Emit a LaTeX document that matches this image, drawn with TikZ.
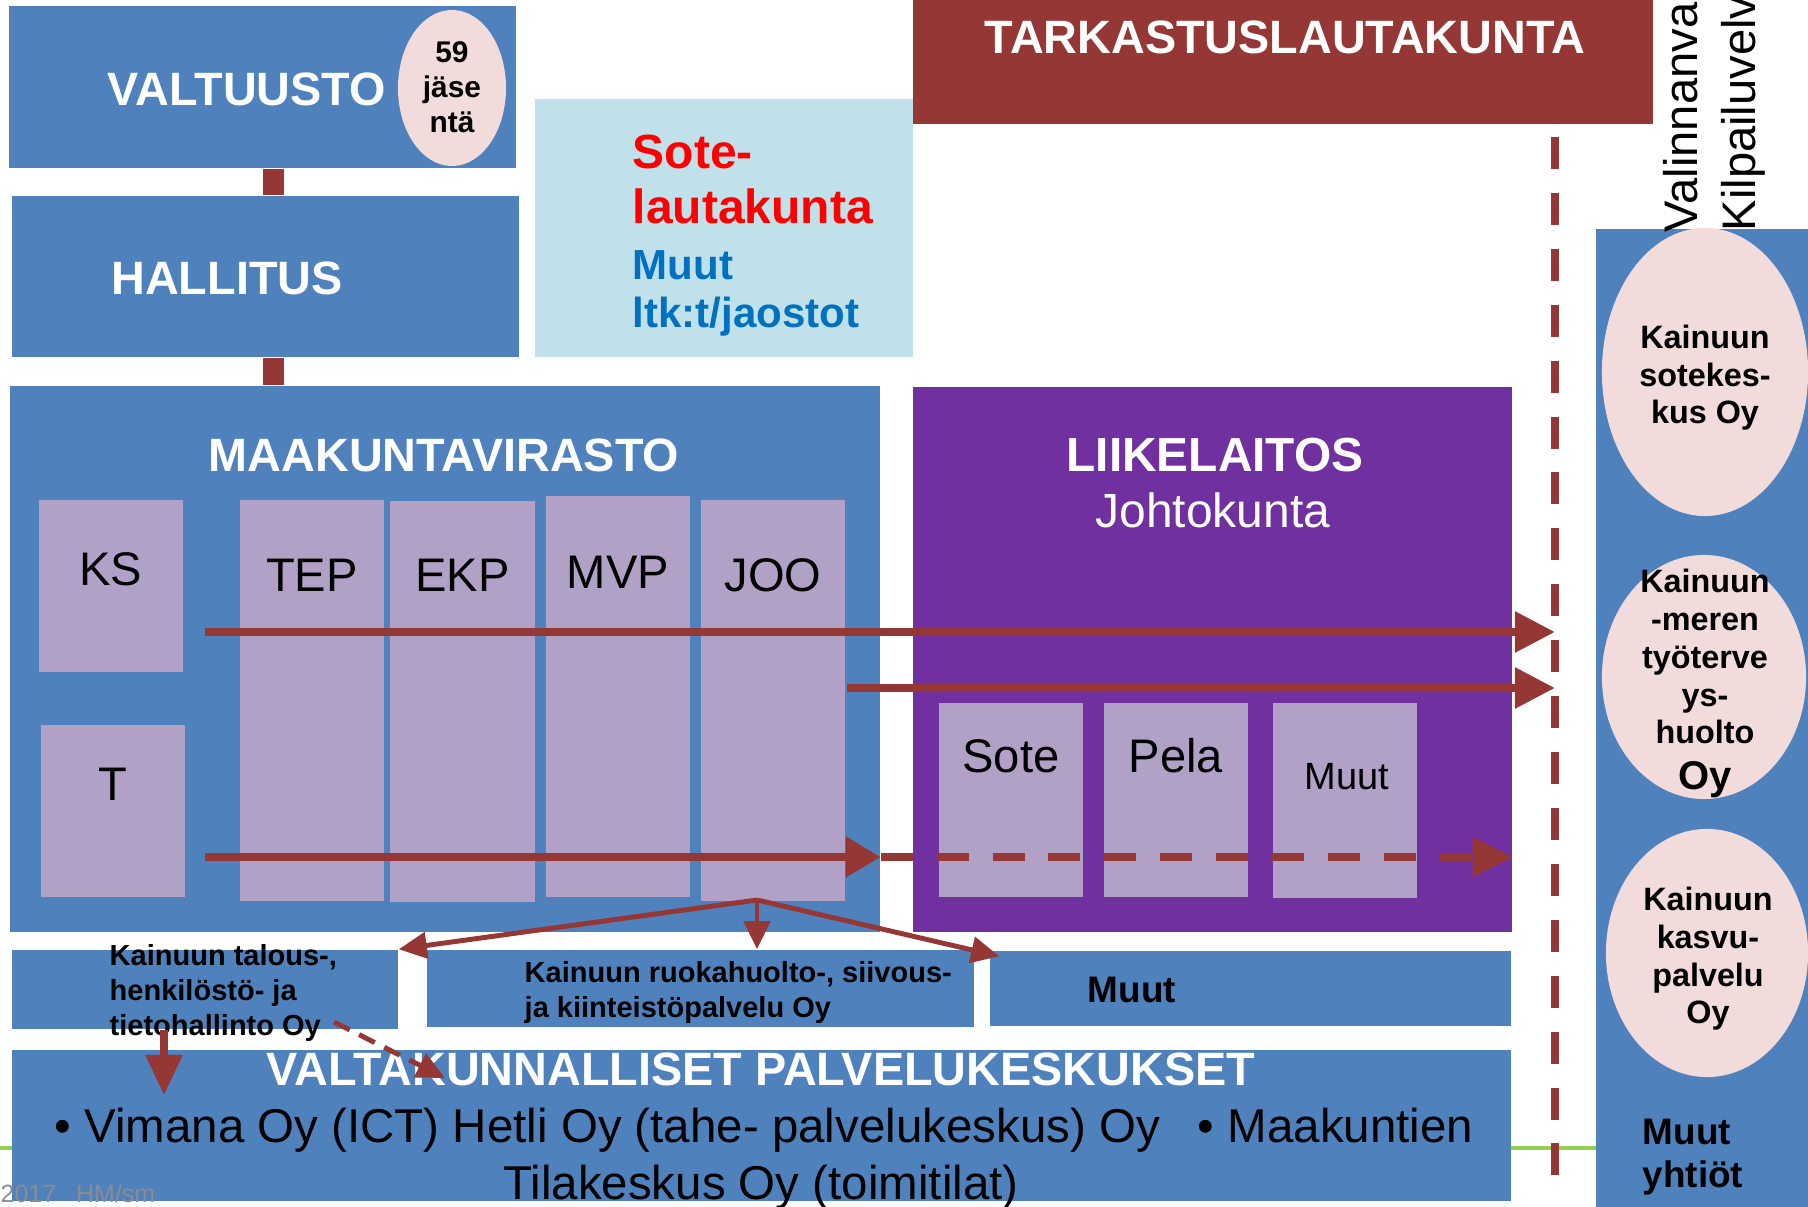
\documentclass[tikz,border=0pt]{standalone}
\usepackage{fontspec}
\setmainfont{Liberation Sans}
\usetikzlibrary{positioning,fit,calc,shapes.geometric,arrows.meta}

\definecolor{orgblue}{HTML}{4F81BD}
\definecolor{unitlilac}{HTML}{B2A1C7}
\definecolor{firmpurple}{HTML}{7030A0}
\definecolor{linkred}{HTML}{953735}
\definecolor{boardcyan}{HTML}{C0E1EA}
\definecolor{firmpink}{HTML}{F2DCDB}
\definecolor{ltkblue}{HTML}{0070C0}
\definecolor{slidegreen}{HTML}{92D050}
\definecolor{footgray}{HTML}{8C8C8C}

\begin{document}
\begin{tikzpicture}[
    x = 0.01cm,
    y = -0.01cm,
    area/.style={
        draw = none,
        fill = orgblue,
        inner sep = 0pt
    },
    unit/.style={
        draw = none,
        fill = unitlilac,
        inner sep = 0pt
    },
    firm/.style={
        ellipse,
        draw = none,
        fill = firmpink,
        inner sep = 0pt
    },
    headline/.style={
        text = white,
        font = \bfseries\fontsize{13.3pt}{16pt}\selectfont,
        inner sep = 0pt,
        anchor = base
    },
    unitname/.style={
        font = \fontsize{13.4pt}{16pt}\selectfont,
        inner sep = 0pt,
        anchor = base
    },
    firmname/.style={
        font = \bfseries\fontsize{9.2pt}{10.8pt}\selectfont,
        align = center,
        inner sep = 0pt,
        anchor = base
    },
    smallname/.style={
        font = \bfseries\fontsize{8.25pt}{10pt}\selectfont,
        align = left,
        inner sep = 0pt,
        anchor = base west
    },
    link/.style={
        draw = linkred,
        line width = 6pt
    },
    flow/.style={
        draw = linkred,
        line width = 2.5pt,
        -{Triangle[length=11.4pt,width=11.1pt]}
    },
    split/.style={
        draw = linkred,
        line width = 1.4pt,
        -{Triangle[length=8pt,width=7.4pt]}
    },
    divider/.style={
        draw = linkred,
        line width = 2.3pt,
        dash pattern = on 9.1pt off 6.8pt
    }
]

\useasboundingbox (0,0) rectangle (1808,1207);

\draw[slidegreen, line width=1.4pt] (0,1148) -- (1808,1148);

% boxes
\node[area, fit={(9,6) (516,168)}] (valtuusto) {};
\node[area, fit={(12,196) (519,357)}] (hallitus) {};
\node[area, fit={(10,386) (880,932)}] (virasto) {};
\node[area, fill=boardcyan, fit={(535,99) (913,357)}] (ltk) {};
\node[area, fill=linkred, fit={(913,0) (1653,124)}] (tarkastus) {};
\node[area, fill=firmpurple, fit={(913,387) (1512,932)}] (liikelaitos) {};
\node[area, fit={(1596,229) (1808,1207)}] (yhtiot) {};
\node[area, fit={(12,950) (398,1029)}] (talous) {};
\node[area, fit={(427,950) (974,1027)}] (ruoka) {};
\node[area, fit={(990,951) (1511,1026)}] (muutoy) {};
\node[area, fit={(12,1050) (1511,1201)}] (valtak) {};

\foreach \name/\xa/\ya/\xb/\yb in {ks/39/500/183/672, t/41/725/185/897,
    tep/240/500/384/901, ekp/390/501/535/902, mvp/546/496/690/897,
    joo/701/500/845/901, sote/939/703/1083/897, pela/1104/703/1248/897,
    muut/1273/703/1417/898}
    \node[unit, fit={(\xa,\ya) (\xb,\yb)}] (\name) {};

\node[firm, minimum width=1.08cm, minimum height=1.56cm] (jasenet) at (452,88) {};
\node[firm, minimum width=2.06cm, minimum height=2.88cm] (sotekeskus) at (1705,372) {};
\node[firm, minimum width=2.04cm, minimum height=2.44cm] (tyoterveys) at (1704,677) {};
\node[firm, minimum width=2.02cm, minimum height=2.48cm] (kasvupalvelu) at (1707,953) {};

\coordinate (spine) at (273.5,0);
\draw[link] (valtuusto.south -| spine) -- (hallitus.north -| spine);
\draw[link] (hallitus.south -| spine) -- (virasto.north -| spine);

% texts
\node[headline] (valtuusto-lbl) at (247,106) {VALTUUSTO};
\node[headline] (hallitus-lbl) at (227,295) {HALLITUS};
\node[headline] (virasto-lbl) at (444,472) {MAAKUNTAVIRASTO};
\node[headline] (tarkastus-lbl) at (1285,54) {TARKASTUSLAUTAKUNTA};
\node[headline, font=\bfseries\fontsize{13.6pt}{16pt}\selectfont] (liikelaitos-lbl) at (1215,472) {LIIKELAITOS};
\node[headline, font=\fontsize{13.65pt}{16pt}\selectfont] (johtokunta-lbl) at (1213,528) {Johtokunta};
\node[headline] (valtak-lbl) at (761,1086) {VALTAKUNNALLISET PALVELUKESKUKSET};

\node[firmname, font=\bfseries\fontsize{8.5pt}{10pt}\selectfont] (jasenet-lbl) at (452,133) {59\\jäse\\ntä};

\node[font=\bfseries\fontsize{13.65pt}{15.9pt}\selectfont, text=red, align=left,
    anchor=base west, inner sep=0pt] (ltk-red) at (632,224) {Sote-\\lautakunta};
\node[font=\bfseries\fontsize{11.95pt}{13.9pt}\selectfont, text=ltkblue, align=left,
    anchor=base west, inner sep=0pt] (ltk-blue) at (632,328) {Muut\\ltk:t/jaostot};

\foreach \name/\txt/\dy in {ks/KS/86, t/T/76, tep/TEP/92, ekp/EKP/91, mvp/MVP/93,
    joo/JOO/92, sote/Sote/70, pela/Pela/70}
    \node[unitname] (\name-lbl) at ($(\name.north)+(0,\dy)$) {\txt};
\node[unitname, font=\fontsize{10.8pt}{13pt}\selectfont] (muut-lbl) at ($(muut.north)+(2,87)$) {Muut};

\node[unitname, rotate=90, anchor=base west] (valinnan-lbl) at (1697,233) {Valinnanva};
\node[unitname, rotate=90, anchor=base west] (kilpailu-lbl) at (1755,232) {Kilpailuvelv};

\node[firmname] (sotekeskus-lbl) at (1705,424) {Kainuun\\sotekes-\\kus Oy};
\node[firmname] (tyoterveys-lbl) at (1705,744) {Kainuun\\-meren\\työterve\\ys-\\huolto};
\node[firmname, font=\bfseries\fontsize{11.4pt}{12pt}\selectfont] (tyoterveys-oy) at (1705,790) {Oy};
\node[firmname] (kasvupalvelu-lbl) at (1708,1024) {Kainuun\\kasvu-\\palvelu\\Oy};
\node[smallname, font=\bfseries\fontsize{10.5pt}{12.5pt}\selectfont] (yhtiot-lbl) at (1642,1188) {Muut\\yhtiöt};

\node[smallname] (talous-lbl) at (109,1036) {Kainuun talous-,\\henkilöstö- ja\\tietohallinto Oy};
\node[smallname, font=\bfseries\fontsize{8.25pt}{10.2pt}\selectfont] (ruoka-lbl) at (524,1018) {Kainuun ruokahuolto-, siivous-\\ja kiinteistöpalvelu Oy};
\node[smallname, font=\bfseries\fontsize{10.5pt}{12pt}\selectfont] (muutoy-lbl) at (1087,1003) {Muut};

\node[unitname, font=\fontsize{13.5pt}{16pt}\selectfont, anchor=base west] (valtak-rivi1) at (54,1143)
    {\textbullet\ Vimana Oy (ICT) Hetli Oy (tahe- palvelukeskus) Oy\hspace{0.8em}\textbullet\ Maakuntien};
\node[unitname, font=\fontsize{13.5pt}{16pt}\selectfont] (valtak-rivi2) at (761,1200) {Tilakeskus Oy (toimitilat)};

% arrows
\coordinate (divide) at (1555,0);
\coordinate (divtop) at (1555,137);
\coordinate (divbot) at (1555,1180);
\draw[divider] (divtop) -- (divbot);

\coordinate (row1) at (205,632);
\coordinate (row2) at (847,688);
\coordinate (row3) at (205,857);
\draw[flow] (row1) -- (row1 -| divide);
\draw[flow] (row2) -- (row2 -| divide);
\draw[flow, -{Triangle[length=10pt,width=11.1pt]}] (row3) -- (row3 -| virasto.east);
\draw[divider, -{Triangle[length=11.4pt,width=10.8pt]}] (row3 -| virasto.east) -- (row3 -| liikelaitos.east);

\coordinate (fork) at (757,900);
\draw[split] (fork) -- (talous.north east);
\draw[split] (fork) -- (ruoka.north -| fork);
\draw[split] (fork) -- ($(muutoy.north west)+(10,6)$);

\coordinate (drop) at (164,1095);
\draw[draw=linkred, line width=2pt, -{Triangle[length=11.4pt,width=10.2pt]}] (talous.south -| drop) -- (drop);
\coordinate (hopstart) at (334,1022);
\coordinate (hop) at (445,1078);
\draw[split, dash pattern=on 5pt off 3pt] (hopstart) -- (hop);

\node[font=\fontsize{7.1pt}{8pt}\selectfont, text=footgray, anchor=base west, inner sep=0pt] (footer) at (0,1203) {2017\hspace{0.8em}HM/sm};

\end{tikzpicture}
\end{document}
